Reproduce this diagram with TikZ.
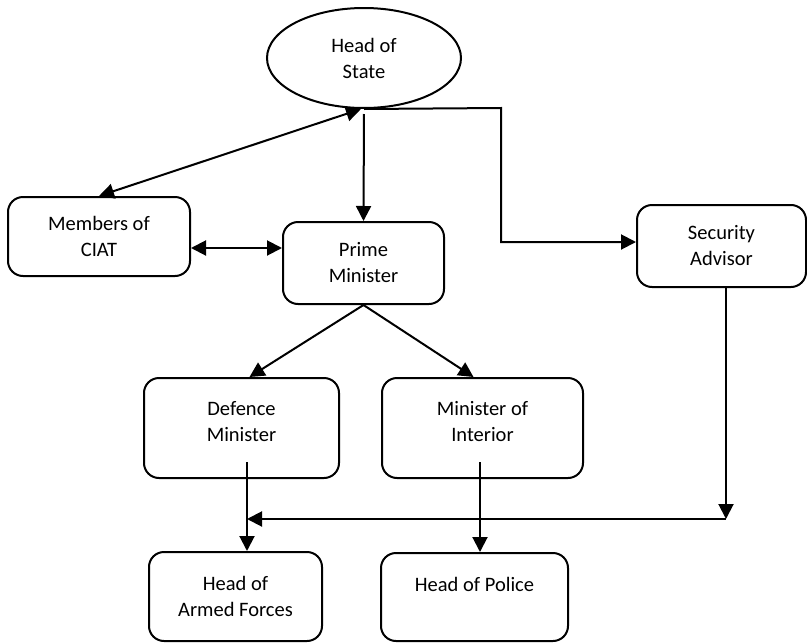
\documentclass[tikz,border=0pt]{standalone}
\usepackage{fontspec}
\setmainfont{Carlito}
\usetikzlibrary{arrows.meta,shapes.geometric}
\tikzset{
  caja/.style={draw, line width=2pt, rounded corners=15pt, inner sep=0pt, align=center},
  flecha/.style={line width=2pt, -{Triangle[length=15pt,width=15pt]}},
  dflecha/.style={line width=2pt, {Triangle[length=15pt,width=15pt]}-{Triangle[length=15pt,width=15pt]}}
}
\begin{document}
\begin{tikzpicture}[x=1pt, y=-1pt, font=\fontsize{20.5}{26}\selectfont]
  \useasboundingbox (0,0) rectangle (807,643);

  %Jefe de estado arriba
  \node[draw, ellipse, line width=2pt, minimum width=194pt, minimum height=100pt, inner sep=0pt, align=center] (hos) at (364,58) {Head of\\State};

  %Cajas del segundo nivel
  \node[caja, minimum width=182pt, minimum height=79pt] (ciat) at (99,236.5) {Members of\\CIAT};
  \node[caja, minimum width=161pt, minimum height=82pt] (pm) at (363.5,263) {Prime\\Minister};
  \node[caja, minimum width=169pt, minimum height=82pt] (sa) at (721.5,246) {Security\\Advisor};

  %Ministros
  \node[caja, minimum width=195pt, minimum height=100pt] (defm) at (241.5,428) {Defence\\Minister\\[-12pt]\mbox{}};
  \node[caja, minimum width=201pt, minimum height=100pt] (moi) at (482.5,428) {Minister of\\Interior\\[-12pt]\mbox{}};

  %Abajo
  \node[caja, minimum width=173pt, minimum height=89pt] (haf) at (235.5,596.5) {Head of\\Armed Forces};
  \node[caja, minimum width=187pt, minimum height=88pt] (hop) at (474.5,597) {Head of Police\\\mbox{}};

  % puntos para las lineas
  \coordinate (codo) at (501,108);
  \coordinate (esq) at (726,519);
  \coordinate (llega) at (247,519);
  \coordinate (defsal) at (247,462);
  \coordinate (moisal) at (480,462);

  %Conexiones
  \draw[dflecha] (ciat.north) -- ([xshift=-3pt]hos.south);
  \draw[flecha, shorten <=5pt] (hos.south) -- (pm.north);
  \draw[flecha] (hos.south) -- (codo) |- ([yshift=4pt]sa.west);
  \draw[dflecha] ([yshift=-11.5pt]ciat.east) -- ([yshift=15pt]pm.west);
  \draw[flecha] (pm.south) -- ([xshift=8pt]defm.north);
  \draw[flecha] (pm.south) -- ([xshift=-9pt]moi.north);
  \draw[flecha] (defsal) -- (defsal |- haf.north);
  \draw[flecha] (moisal) -- (moisal |- hop.north);

  %Linea del asesor
  \draw[flecha] (sa.south -| esq) -- (esq);
  \draw[flecha] (esq) -- (llega);
\end{tikzpicture}
\end{document}
